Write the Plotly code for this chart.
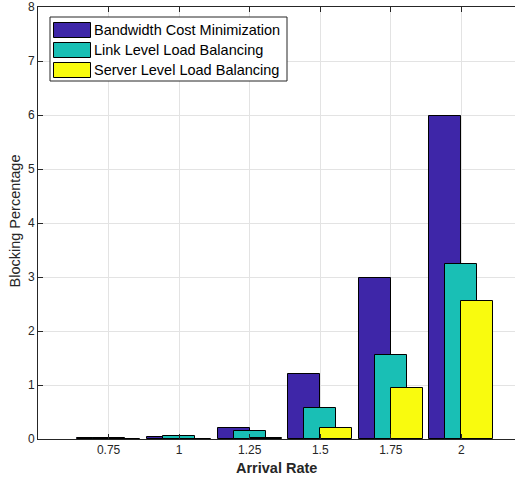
import plotly.graph_objects as go

arrival_rate = [0.75, 1, 1.25, 1.5, 1.75, 2]
tick_labels = ["0.75", "1", "1.25", "1.5", "1.75", "2"]
series_names = ["Bandwidth Cost Minimization", "Link Level Load Balancing", "Server Level Load Balancing"]
bandwidth_cost = [0.015, 0.04, 0.21, 1.2, 2.98, 5.98]
link_level = [0.01, 0.05, 0.155, 0.57, 1.55, 3.25]
server_level = [0.004, 0.006, 0.012, 0.2, 0.94, 2.56]

colors = ["#3E26A8", "#19BFB5", "#F9FB0E"]
series = [bandwidth_cost, link_level, server_level]
bar_w = 0.113
offsets = [-bar_w, -bar_w / 2, 0.0]

W, H = 515, 484
L, R, T, B = 38, 0, 7, 45
PW, PH = W - L - R, H - T - B
FONT = "Arial, Liberation Sans, sans-serif"
TXT = "#262626"

fig = go.Figure()
for name, vals, col, off in zip(series_names, series, colors, offsets):
    fig.add_trace(go.Bar(
        x=arrival_rate, y=vals, name=name, width=bar_w, offset=off,
        marker=dict(color=col, line=dict(color="black", width=1)),
        showlegend=False,
    ))

def px_x(p):
    return (p - L) / PW

def px_y(p):
    return (T + PH - p) / PH

shapes = []
annotations = []
# legend box
shapes.append(dict(type="rect", xref="paper", yref="paper",
                   x0=px_x(50), x1=px_x(287), y0=px_y(81), y1=px_y(17),
                   line=dict(color=TXT, width=1), fillcolor="white", layer="above"))
row_centers = [30, 50, 70]
for name, col, cy in zip(series_names, colors, row_centers):
    shapes.append(dict(type="rect", xref="paper", yref="paper",
                       x0=px_x(53.5), x1=px_x(90.5), y0=px_y(cy + 7.5), y1=px_y(cy - 7.5),
                       line=dict(color="black", width=1), fillcolor=col, layer="above"))
    annotations.append(dict(xref="paper", yref="paper", x=px_x(92), y=px_y(cy),
                            xanchor="left", yanchor="middle", showarrow=False,
                            text=name, font=dict(family=FONT, size=14.5, color="black")))

# axis titles
annotations.append(dict(xref="paper", yref="paper", x=px_x(276), y=px_y(468),
                        xanchor="center", yanchor="middle", showarrow=False,
                        text="<b>Arrival Rate</b>", font=dict(family=FONT, size=14.5, color=TXT)))
annotations.append(dict(xref="paper", yref="paper", x=px_x(14.5), y=px_y(221),
                        xanchor="center", yanchor="middle", showarrow=False, textangle=-90,
                        text="Blocking Percentage", font=dict(family=FONT, size=14.5, color=TXT)))

fig.update_layout(
    width=W, height=H,
    margin=dict(l=L, r=R, t=T, b=B, pad=0),
    paper_bgcolor="white", plot_bgcolor="white",
    barmode="overlay",
    bargap=0,
    shapes=shapes,
    annotations=annotations,
    font=dict(family=FONT, color=TXT, size=12),
)
fig.update_xaxes(
    range=[0.5, 2.19], tickvals=arrival_rate, ticktext=tick_labels,
    ticks="inside", ticklen=5, tickcolor=TXT, showline=True, linecolor=TXT, linewidth=1,
    mirror="ticks", showgrid=True, gridcolor="#e3e3e3", gridwidth=1, zeroline=False,
    automargin=False, tickfont=dict(family=FONT, size=12, color=TXT),
)
fig.update_yaxes(
    range=[0, 8], tickvals=[0, 1, 2, 3, 4, 5, 6, 7, 8],
    ticks="inside", ticklen=5, tickcolor=TXT, showline=True, linecolor=TXT, linewidth=1,
    mirror=False, showgrid=True, gridcolor="#e3e3e3", gridwidth=1, zeroline=False,
    automargin=False, tickfont=dict(family=FONT, size=12, color=TXT),
)
fig.write_html("out.html", config={"displayModeBar": False},
               post_script="document.body.style.margin='0';")
